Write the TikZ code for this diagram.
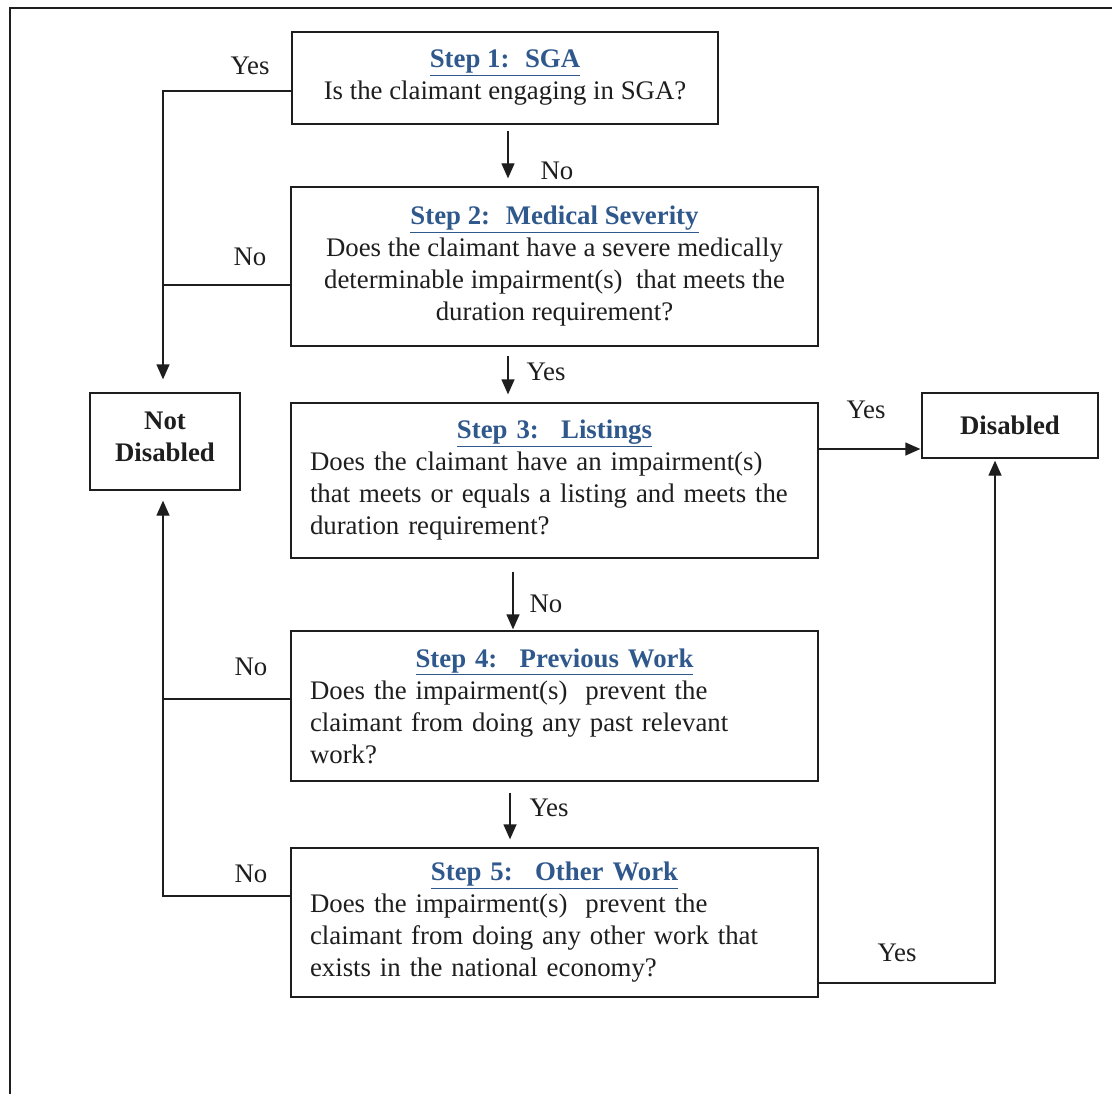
\documentclass[tikz,border=0pt]{standalone}
\usepackage{fontspec}
\setmainfont{Liberation Serif}
\usetikzlibrary{arrows.meta}
\definecolor{titleblue}{RGB}{47,88,140}
\definecolor{inkgray}{RGB}{30,30,30}
\newcommand{\steptitle}[1]{\textcolor{titleblue}{\underline{\textbf{#1}}}}
\begin{document}
\begin{tikzpicture}[x=1pt,y=-1pt,
  every node/.style={font=\fontsize{26.8}{32}\selectfont, text=inkgray},
  box/.style={draw=inkgray, line width=1.3pt, inner sep=0pt},
  stepbox/.style={box, inner xsep=19pt},
  lbl/.style={inner sep=0pt},
  conn/.style={draw=inkgray, line width=1.3pt},
  arr/.style={conn, -{Triangle[length=15pt,width=13pt]}},
]
\useasboundingbox (0,0) rectangle (1112,1094);
\fill[white] (0,0) rectangle (1112,1094);
\begin{scope}
\clip (0,0) rectangle (1112,1094);
\draw[line width=1.6pt, inkgray] (10,1120) -- (10,8) -- (1130,8);
\end{scope}

% step boxes
\node[stepbox, align=center, minimum width=426pt, minimum height=92pt] (s1) at (505,78)
  {\steptitle{Step 1:~ SGA}\\ Is the claimant engaging in SGA?};
\node[stepbox, align=center, minimum width=527pt, minimum height=159pt] (s2) at (554.5,266.5)
  {\steptitle{Step 2:~ Medical Severity}\\ Does the claimant have a severe medically\\ determinable impairment(s)~ that meets the\\ duration requirement?};
\node[stepbox, align=left, text width=489pt, minimum width=527pt, minimum height=155pt] (s3) at (554.5,480.5)
  {\makebox[\linewidth]{\steptitle{Step 3:~ Listings}}\\ Does the claimant have an impairment(s)\\ that meets or equals a listing and meets the\\ duration requirement?};
\node[stepbox, align=left, text width=489pt, minimum width=527pt, minimum height=150pt] (s4) at (554.5,706)
  {\makebox[\linewidth]{\steptitle{Step 4:~ Previous Work}}\\ Does the impairment(s)~ prevent the\\ claimant from doing any past relevant\\ work?};
\node[stepbox, align=left, text width=489pt, minimum width=527pt, minimum height=149pt] (s5) at (554.5,922.5)
  {\makebox[\linewidth]{\steptitle{Step 5:~ Other Work}}\\ Does the impairment(s)~ prevent the\\ claimant from doing any other work that\\ exists in the national economy?};

% outcome boxes
\node[box, align=center, minimum width=150pt, minimum height=97pt, text depth=9pt, font=\fontsize{26.8}{32}\selectfont\bfseries] (nd) at (165,441.5) {Not\\Disabled};
\node[box, align=center, minimum width=176pt, minimum height=65pt, font=\fontsize{26.8}{32}\selectfont\bfseries] (dis) at (1010,425.5) {Disabled};

\coordinate (trunk) at (163,441.5);

% vertical arrows between steps
\draw[arr, shorten <=6pt, shorten >=8pt] ([xshift=3pt]s1.south) -- ([xshift=3pt]s1.south |- s2.north);
\draw[arr, shorten <=9pt, shorten >=8pt] ([xshift=-46.5pt]s2.south) -- ([xshift=-46.5pt]s2.south |- s3.north);
\draw[arr, shorten <=13pt, shorten >=1pt] ([xshift=-41.5pt]s3.south) -- ([xshift=-41.5pt]s3.south |- s4.north);
\draw[arr, shorten <=11pt, shorten >=8pt] ([xshift=-44.5pt]s4.south) -- ([xshift=-44.5pt]s4.south |- s5.north);

% left branches to Not Disabled
\draw[arr] ([yshift=-13pt]s1.west) -| ([xshift=-2pt,yshift=13pt]nd.north);
\draw[conn] ([yshift=-18.5pt]s2.west) -- ([yshift=-18.5pt]s2.west -| trunk);
\draw[conn] ([yshift=7pt]s4.west) -- ([yshift=7pt]s4.west -| trunk);
\draw[arr] ([yshift=26.5pt]s5.west) -| ([xshift=-2pt,yshift=-10pt]nd.south);

% right branches to Disabled
\draw[arr, shorten >=1pt] ([yshift=31.5pt]s3.east) -- ([yshift=31.5pt]s3.east -| dis.west);
\draw[arr] ([yshift=-60.5pt]s5.east) -| ([xshift=-15pt,yshift=-2pt]dis.south);

% labels
\node[lbl] (l1) at (557,171) {No};
\node[lbl] (l2) at (546,372) {Yes};
\node[lbl] (l3) at (546,604) {No};
\node[lbl] (l4) at (549,808) {Yes};
\node[lbl] (l5) at (250,66) {Yes};
\node[lbl] (l6) at (250,257) {No};
\node[lbl] (l7) at (251,667) {No};
\node[lbl] (l8) at (251,874) {No};
\node[lbl] (l9) at (866,410) {Yes};
\node[lbl] (l10) at (897,953) {Yes};
\end{tikzpicture}
\end{document}
